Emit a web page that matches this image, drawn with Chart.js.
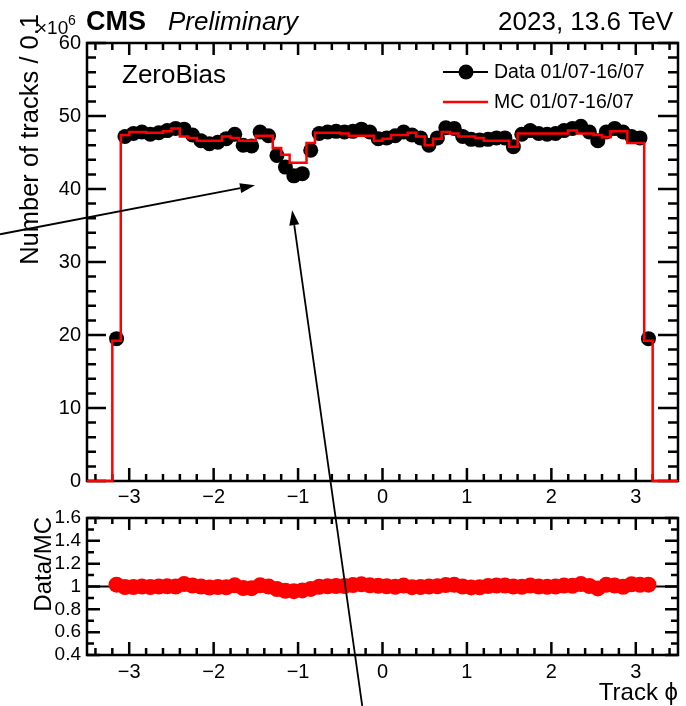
<!DOCTYPE html>
<html>
<head>
<meta charset="utf-8">
<title>Track phi</title>
<script src="https://cdn.jsdelivr.net/npm/chart.js@4.4.1/dist/chart.umd.min.js"></script>
<style>
  html, body { margin: 0; padding: 0; background: #fff; }
  #wrap { position: relative; width: 686px; height: 706px; }
  #wrap canvas { position: absolute; left: 0; }
  #mainCanvas { top: 0; }
  #ratioCanvas { top: 490px; }
  #arrowCanvas { top: 0; pointer-events: none; }
</style>
</head>
<body>
<div id="wrap">
  <canvas id="mainCanvas" width="686" height="510"></canvas>
  <canvas id="ratioCanvas" width="686" height="216"></canvas>
  <canvas id="arrowCanvas" width="686" height="706"></canvas>
</div>
<script>
// track phi bins (width 0.1), only -3.2..3.2 is populated
const phiCenters = [
  -3.15, -3.05, -2.95, -2.85, -2.75, -2.65, -2.55, -2.45, -2.35, -2.25, -2.15, -2.05, -1.95, -1.85, -1.75, -1.65,
  -1.55, -1.45, -1.35, -1.25, -1.15, -1.05, -0.95, -0.85, -0.75, -0.65, -0.55, -0.45, -0.35, -0.25, -0.15, -0.05,
  0.05, 0.15, 0.25, 0.35, 0.45, 0.55, 0.65, 0.75, 0.85, 0.95, 1.05, 1.15, 1.25, 1.35, 1.45, 1.55,
  1.65, 1.75, 1.85, 1.95, 2.05, 2.15, 2.25, 2.35, 2.45, 2.55, 2.65, 2.75, 2.85, 2.95, 3.05, 3.15
];
const binWidth = 0.1;
const phiRange = [-3.5, 3.5];

// number of tracks per bin, in units of 10^6
const dataCounts = [
  19.5, 47.2, 47.6, 47.8, 47.5, 47.7, 48.0, 48.3, 48.2, 47.4, 46.6, 46.2, 46.4, 46.9, 47.5, 46.0,
  45.9, 47.8, 47.3, 44.6, 43.0, 41.8, 42.1, 45.3, 47.6, 47.8, 47.9, 47.8, 47.9, 48.2, 47.8, 46.9,
  47.0, 47.3, 47.8, 47.4, 47.0, 46.0, 47.0, 48.4, 48.3, 47.2, 46.8, 46.7, 46.8, 47.0, 47.0, 45.8,
  47.5, 48.0, 47.6, 47.5, 47.6, 48.0, 48.3, 48.6, 47.8, 46.6, 47.8, 48.3, 47.8, 47.2, 47.0, 19.5
];
const mcCounts = [
  19.2, 47.4, 47.8, 47.8, 47.7, 47.7, 47.9, 48.3, 47.2, 47.0, 46.6, 46.6, 46.6, 47.2, 47.0, 46.6,
  46.6, 47.3, 47.3, 45.6, 44.7, 43.6, 43.6, 46.3, 47.7, 47.7, 47.7, 47.6, 47.3, 47.3, 47.3, 46.6,
  46.9, 47.4, 47.4, 47.7, 47.2, 46.0, 46.9, 47.8, 47.6, 47.2, 47.2, 47.0, 46.6, 46.6, 46.6, 45.8,
  47.6, 47.6, 47.6, 47.6, 47.6, 47.6, 48.0, 47.6, 47.6, 47.4, 47.1, 47.9, 47.9, 46.3, 46.3, 19.2
];

const xTickValues = [-3, -2, -1, 0, 1, 2, 3];
const yTickValues = [0, 10, 20, 30, 40, 50, 60];
const ratioTickValues = [0.4, 0.6, 0.8, 1, 1.2, 1.4, 1.6];

// annotation arrows, in (phi, tracks/10^6) of the upper panel
const arrows = [
  { from: [-4.53, 33.8], to: [-1.51, 40.5] },
  { from: [-0.24, -30.8], to: [-1.07, 37.1] }
];

const FONT = "'Liberation Sans', Arial, Helvetica, sans-serif";
const MC_RED = '#ff0000';

const ratio = dataCounts.map((d, i) => d / mcCounts[i]);

// MC histogram as step line through the bin low edges
const mcSteps = [{ x: phiRange[0], y: 0 }]
  .concat(phiCenters.map((c, i) => ({ x: c - binWidth / 2, y: mcCounts[i] })))
  .concat([{ x: phiCenters[phiCenters.length - 1] + binWidth / 2, y: 0 }, { x: phiRange[1], y: 0 }]);

function fmt(v) {
  return v < 0 ? '\u2212' + Math.abs(v) : String(v);
}

function range(from, to, step) {
  const out = [];
  for (let k = Math.round(from / step); k <= Math.round(to / step); k++) out.push(+(k * step).toFixed(4));
  return out;
}

// frame with inward ticks on all four sides (ROOT style)
function framePlugin(opts) {
  return {
    id: 'frame',
    beforeDatasetsDraw(chart) {
      const { ctx, chartArea: a, scales } = chart;
      const sx = scales.x, sy = scales.y;
      ctx.save();
      ctx.strokeStyle = '#000';
      ctx.lineWidth = 2.5;
      ctx.lineCap = 'butt';
      ctx.beginPath();
      const isMajorX = v => opts.xMajor.some(m => Math.abs(m - v) < 1e-6);
      const isMajorY = v => opts.yMajor.some(m => Math.abs(m - v) < 1e-6);
      opts.xAll.forEach(v => {
        const px = sx.getPixelForValue(v);
        const major = isMajorX(v);
        const lb = major ? opts.xLen[0] : opts.xLen[1];
        const lt = major ? opts.xLenTop[0] : opts.xLenTop[1];
        ctx.moveTo(px, a.bottom); ctx.lineTo(px, a.bottom - lb);
        ctx.moveTo(px, a.top); ctx.lineTo(px, a.top + lt);
      });
      opts.yAll.forEach(v => {
        const py = sy.getPixelForValue(v);
        const major = isMajorY(v);
        const ll = major ? opts.yLen[0] : opts.yLen[1];
        const lr = major ? opts.yLenRight[0] : opts.yLenRight[1];
        ctx.moveTo(a.left, py); ctx.lineTo(a.left + ll, py);
        ctx.moveTo(a.right, py); ctx.lineTo(a.right - lr, py);
      });
      ctx.stroke();
      if (opts.unitLine) {
        const py = sy.getPixelForValue(1);
        ctx.lineWidth = 2;
        ctx.beginPath();
        ctx.moveTo(a.left, py); ctx.lineTo(a.right, py);
        ctx.stroke();
      }
      ctx.lineWidth = 2.5;
      ctx.strokeRect(a.left, a.top, a.right - a.left, a.bottom - a.top);
      ctx.restore();
    }
  };
}

const mainTexts = {
  id: 'mainTexts',
  afterDraw(chart) {
    const ctx = chart.ctx;
    ctx.save();
    ctx.fillStyle = '#000';
    ctx.textBaseline = 'alphabetic';

    ctx.font = 'bold 27px ' + FONT;
    ctx.textAlign = 'left';
    ctx.fillText('CMS', 86, 30);
    ctx.font = 'italic 26px ' + FONT;
    ctx.fillText('Preliminary', 168, 30);
    ctx.font = '26px ' + FONT;
    ctx.textAlign = 'right';
    ctx.fillText('2023, 13.6 TeV', 673, 30);

    // axis multiplier
    ctx.textAlign = 'left';
    ctx.font = '19px ' + FONT;
    ctx.fillText('\u00d710', 36, 34);
    ctx.font = '14px ' + FONT;
    ctx.fillText('6', 68, 25);

    // y-axis title
    ctx.save();
    ctx.translate(38, 14);
    ctx.rotate(-Math.PI / 2);
    ctx.font = '25.5px ' + FONT;
    ctx.textAlign = 'right';
    ctx.fillText('Number of tracks / 0.1', 0, 0);
    ctx.restore();

    ctx.font = '26px ' + FONT;
    ctx.textAlign = 'left';
    ctx.fillText('ZeroBias', 122, 83);

    // legend
    ctx.strokeStyle = '#000';
    ctx.lineWidth = 2;
    ctx.beginPath();
    ctx.moveTo(443, 72); ctx.lineTo(488, 72);
    ctx.stroke();
    ctx.beginPath();
    ctx.arc(466, 72, 7.5, 0, Math.PI * 2);
    ctx.fill();
    ctx.strokeStyle = MC_RED;
    ctx.lineWidth = 2.5;
    ctx.beginPath();
    ctx.moveTo(443, 102); ctx.lineTo(488, 102);
    ctx.stroke();
    ctx.font = '19.5px ' + FONT;
    ctx.textBaseline = 'middle';
    ctx.fillText('Data 01/07-16/07', 494, 73);
    ctx.fillText('MC 01/07-16/07', 494, 103);
    ctx.restore();
  }
};

const ratioTexts = {
  id: 'ratioTexts',
  afterDraw(chart) {
    const ctx = chart.ctx;
    ctx.save();
    ctx.fillStyle = '#000';
    ctx.font = '24px ' + FONT;
    ctx.textBaseline = 'alphabetic';
    ctx.save();
    ctx.translate(51, 27);
    ctx.rotate(-Math.PI / 2);
    ctx.textAlign = 'right';
    ctx.fillText('Data/MC', 0, 0);
    ctx.restore();
    ctx.textAlign = 'right';
    ctx.fillText('Track \u03d5', 678, 210);
    ctx.restore();
  }
};

function tickOpts(size, padding) {
  return { padding: padding, color: '#000', font: { family: FONT, size: size }, callback: fmt, maxRotation: 0, autoSkip: false };
}

const mainChart = new Chart(document.getElementById('mainCanvas'), {
  data: {
    datasets: [
      {
        type: 'line',
        label: 'MC 01/07-16/07',
        data: mcSteps,
        stepped: 'before',
        borderColor: MC_RED,
        borderWidth: 2.5,
        pointRadius: 0,
        fill: false,
        clip: false,
        order: 0
      },
      {
        type: 'scatter',
        label: 'Data 01/07-16/07',
        data: phiCenters.map((c, i) => ({ x: c, y: dataCounts[i] })),
        pointRadius: 7.5,
        pointBackgroundColor: '#000',
        pointBorderWidth: 0,
        order: 1
      }
    ]
  },
  options: {
    responsive: false,
    animation: false,
    events: [],
    layout: { padding: { left: 0, right: 8, top: 43, bottom: 0 } },
    plugins: { legend: { display: false }, tooltip: { enabled: false } },
    scales: {
      x: {
        type: 'linear', min: phiRange[0], max: phiRange[1],
        grid: { display: false, drawTicks: false }, border: { display: false },
        afterBuildTicks: s => { s.ticks = xTickValues.map(v => ({ value: v })); },
        afterFit: s => { s.height = 29; },
        ticks: tickOpts(20, 4)
      },
      y: {
        type: 'linear', min: 0, max: 60,
        grid: { display: false, drawTicks: false }, border: { display: false },
        afterBuildTicks: s => { s.ticks = yTickValues.map(v => ({ value: v })); },
        afterFit: s => { s.width = 87; },
        ticks: tickOpts(20, 6)
      }
    }
  },
  plugins: [framePlugin({
    xMajor: xTickValues, xAll: range(-3.4, 3.4, 0.2),
    yMajor: yTickValues, yAll: range(0, 60, 2),
    xLen: [13, 7], xLenTop: [12, 7], yLen: [19, 9], yLenRight: [20, 10]
  }), mainTexts]
});

const ratioChart = new Chart(document.getElementById('ratioCanvas'), {
  type: 'scatter',
  data: {
    datasets: [{
      label: 'Data/MC',
      data: phiCenters.map((c, i) => ({ x: c, y: ratio[i] })),
      pointRadius: 8,
      pointBackgroundColor: MC_RED,
      pointBorderWidth: 0
    }]
  },
  options: {
    responsive: false,
    animation: false,
    events: [],
    layout: { padding: { left: 0, right: 8, top: 28, bottom: 0 } },
    plugins: { legend: { display: false }, tooltip: { enabled: false } },
    scales: {
      x: {
        type: 'linear', min: phiRange[0], max: phiRange[1],
        grid: { display: false, drawTicks: false }, border: { display: false },
        afterBuildTicks: s => { s.ticks = xTickValues.map(v => ({ value: v })); },
        afterFit: s => { s.height = 51; },
        ticks: tickOpts(20, 5)
      },
      y: {
        type: 'linear', min: 0.4, max: 1.6,
        grid: { display: false, drawTicks: false }, border: { display: false },
        afterBuildTicks: s => { s.ticks = ratioTickValues.map(v => ({ value: v })); },
        afterFit: s => { s.width = 87; },
        ticks: tickOpts(19, 6)
      }
    }
  },
  plugins: [framePlugin({
    xMajor: xTickValues, xAll: range(-3.4, 3.4, 0.2),
    yMajor: ratioTickValues, yAll: range(0.4, 1.6, 0.1),
    xLen: [13, 7], xLenTop: [12, 6], yLen: [13, 7], yLenRight: [13, 7],
    unitLine: true
  }), ratioTexts]
});

// arrows drawn over both panels
(function drawArrows() {
  const ctx = document.getElementById('arrowCanvas').getContext('2d');
  const sx = mainChart.scales.x, sy = mainChart.scales.y;
  ctx.strokeStyle = '#000';
  ctx.fillStyle = '#000';
  ctx.lineWidth = 1.8;
  arrows.forEach(a => {
    const x0 = sx.getPixelForValue(a.from[0]), y0 = sy.getPixelForValue(a.from[1]);
    const x1 = sx.getPixelForValue(a.to[0]), y1 = sy.getPixelForValue(a.to[1]);
    const ang = Math.atan2(y1 - y0, x1 - x0);
    const head = 15, half = 5;
    const bx = x1 - head * Math.cos(ang), by = y1 - head * Math.sin(ang);
    ctx.beginPath();
    ctx.moveTo(x0, y0); ctx.lineTo(bx, by);
    ctx.stroke();
    ctx.beginPath();
    ctx.moveTo(x1, y1);
    ctx.lineTo(bx + half * Math.sin(ang), by - half * Math.cos(ang));
    ctx.lineTo(bx - half * Math.sin(ang), by + half * Math.cos(ang));
    ctx.closePath();
    ctx.fill();
  });
})();
</script>
</body>
</html>
